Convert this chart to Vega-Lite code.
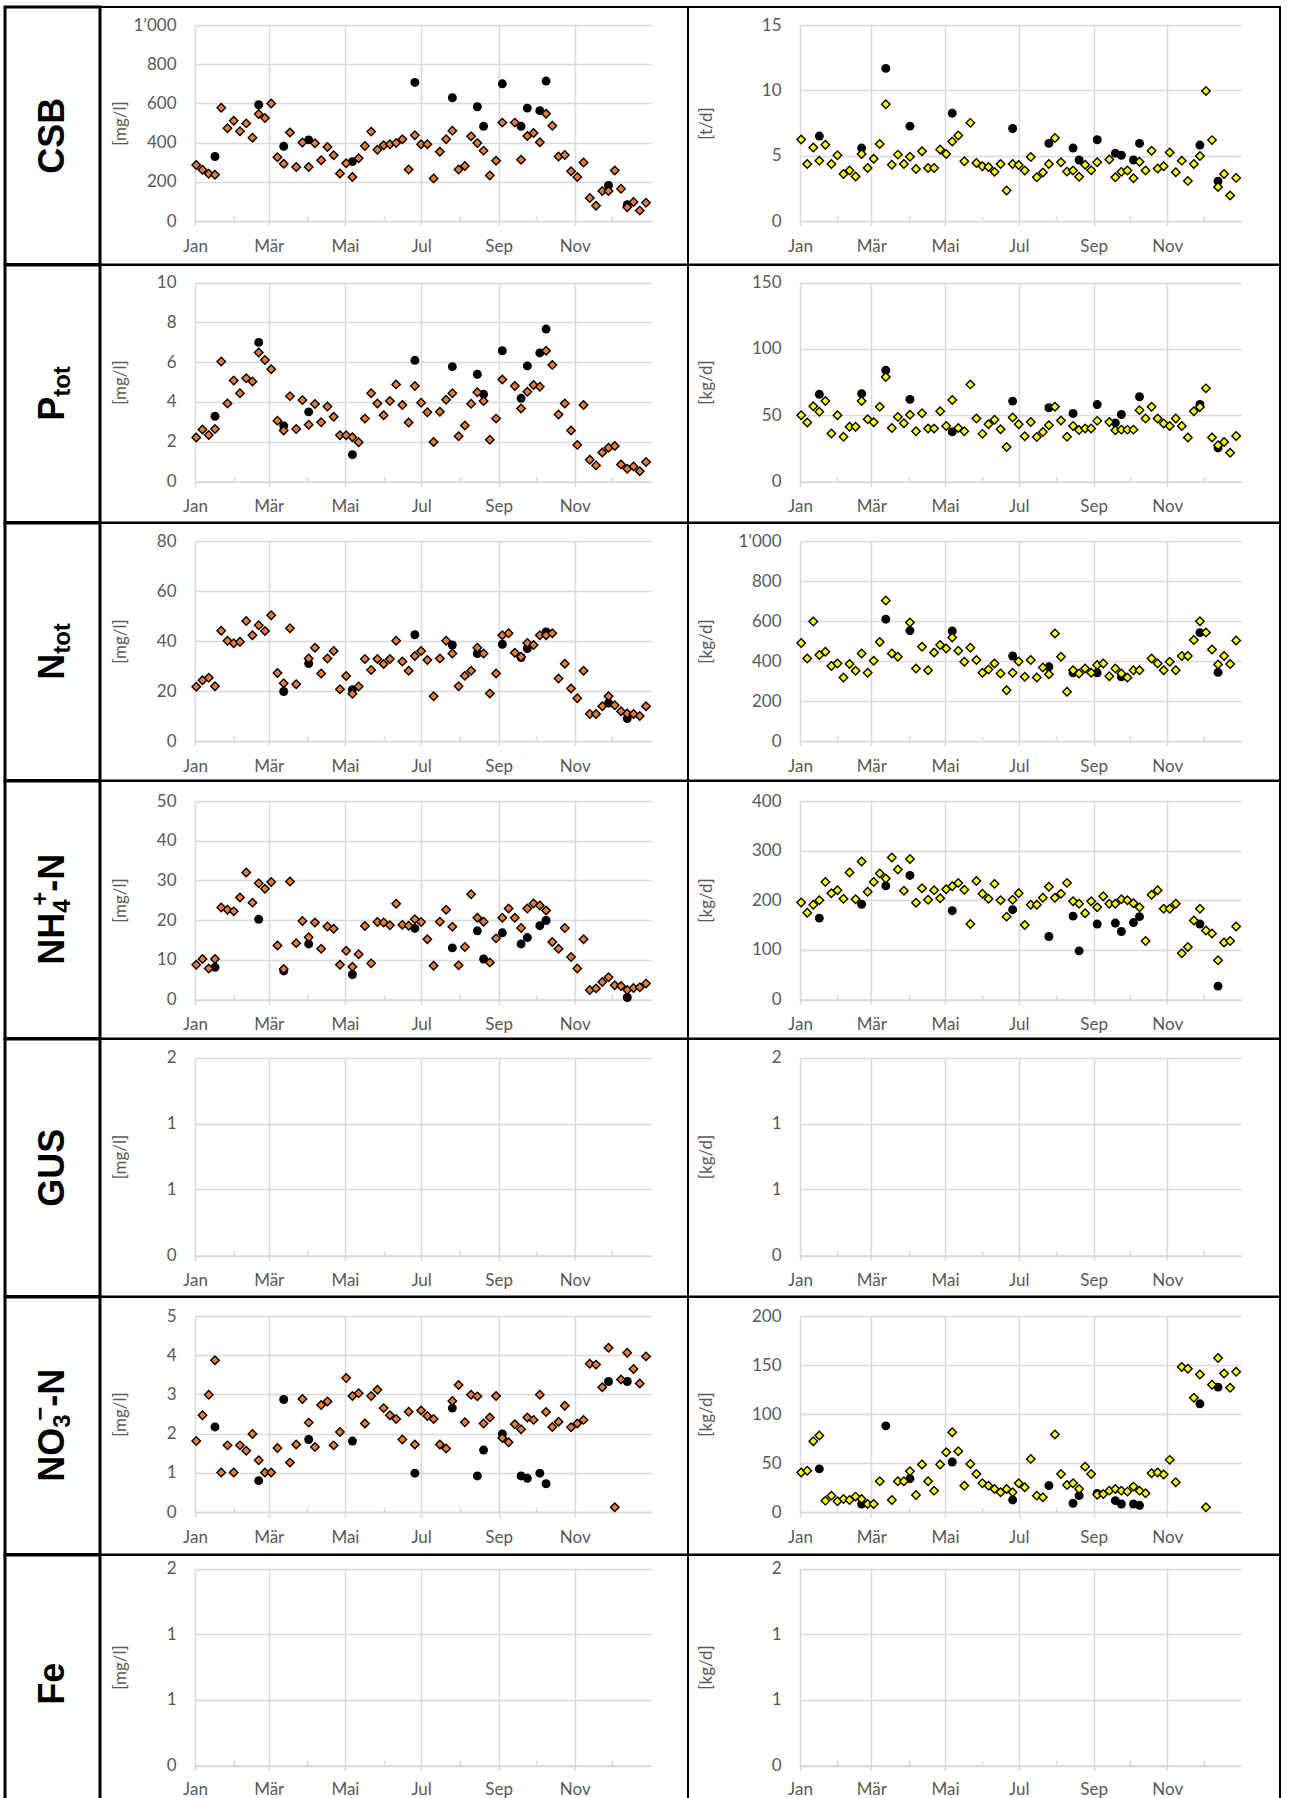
{
"$schema":"https://vega.github.io/schema/vega-lite/v6.json",
"background":"white",
"padding":{"left":3,"top":5,"right":0,"bottom":0},
"config":{
"axis":{"labelFont":"Lato","labelFontSize":17,"labelFontWeight":"normal","labelColor":"#595959","titleFont":"Lato","titleFontSize":17,"titleColor":"#595959","titleFontWeight":"normal","gridColor":"#d9d9d9","gridWidth":1.5,"domainColor":"#d9d9d9","domainWidth":1.5,"tickColor":"#d9d9d9","tickWidth":1.5},
"text":{"font":"Liberation Sans","fontWeight":"bold","color":"black"}
},
"datasets":{
"CSB_L_A":[{"t":"2021-01-02","v":286},{"t":"2021-01-07","v":261},{"t":"2021-01-12","v":241},{"t":"2021-01-17","v":236},{"t":"2021-01-22","v":578},{"t":"2021-01-27","v":473},{"t":"2021-02-01","v":512},{"t":"2021-02-06","v":458},{"t":"2021-02-11","v":498},{"t":"2021-02-16","v":425},{"t":"2021-02-21","v":546},{"t":"2021-02-26","v":525},{"t":"2021-03-03","v":600},{"t":"2021-03-08","v":325},{"t":"2021-03-13","v":292},{"t":"2021-03-18","v":452},{"t":"2021-03-23","v":276},{"t":"2021-03-28","v":400},{"t":"2021-04-02","v":276},{"t":"2021-04-07","v":397},{"t":"2021-04-12","v":310},{"t":"2021-04-17","v":378},{"t":"2021-04-22","v":336},{"t":"2021-04-27","v":242},{"t":"2021-05-02","v":295},{"t":"2021-05-07","v":224},{"t":"2021-05-12","v":320},{"t":"2021-05-17","v":383},{"t":"2021-05-22","v":456},{"t":"2021-05-27","v":363},{"t":"2021-06-01","v":386},{"t":"2021-06-06","v":392},{"t":"2021-06-11","v":398},{"t":"2021-06-16","v":417},{"t":"2021-06-21","v":263},{"t":"2021-06-26","v":437},{"t":"2021-07-01","v":392},{"t":"2021-07-06","v":392},{"t":"2021-07-11","v":217},{"t":"2021-07-16","v":353},{"t":"2021-07-21","v":417},{"t":"2021-07-26","v":461},{"t":"2021-07-31","v":263},{"t":"2021-08-05","v":281},{"t":"2021-08-10","v":432},{"t":"2021-08-15","v":398},{"t":"2021-08-20","v":359},{"t":"2021-08-25","v":232},{"t":"2021-08-30","v":307},{"t":"2021-09-04","v":502},{"t":"2021-09-14","v":502},{"t":"2021-09-19","v":312},{"t":"2021-09-24","v":434},{"t":"2021-09-29","v":449},{"t":"2021-10-04","v":402},{"t":"2021-10-09","v":547},{"t":"2021-10-14","v":486},{"t":"2021-10-19","v":329},{"t":"2021-10-24","v":337},{"t":"2021-10-29","v":254},{"t":"2021-11-03","v":225},{"t":"2021-11-08","v":298},{"t":"2021-11-13","v":117},{"t":"2021-11-18","v":78},{"t":"2021-11-23","v":153},{"t":"2021-11-28","v":153},{"t":"2021-12-03","v":258},{"t":"2021-12-08","v":164},{"t":"2021-12-13","v":70},{"t":"2021-12-18","v":97},{"t":"2021-12-23","v":53},{"t":"2021-12-28","v":93}],
"CSB_L_B":[{"t":"2021-01-17","v":329},{"t":"2021-02-21","v":593},{"t":"2021-03-13","v":381},{"t":"2021-04-02","v":414},{"t":"2021-05-07","v":303},{"t":"2021-06-26","v":707},{"t":"2021-07-26","v":629},{"t":"2021-08-15","v":583},{"t":"2021-08-20","v":483},{"t":"2021-09-04","v":700},{"t":"2021-09-19","v":483},{"t":"2021-09-24","v":576},{"t":"2021-10-04","v":563},{"t":"2021-10-09","v":714},{"t":"2021-11-28","v":181},{"t":"2021-12-13","v":83}],
"CSB_R_A":[{"t":"2021-01-02","v":6.24},{"t":"2021-01-07","v":4.37},{"t":"2021-01-12","v":5.63},{"t":"2021-01-17","v":4.62},{"t":"2021-01-22","v":5.84},{"t":"2021-01-27","v":4.37},{"t":"2021-02-01","v":5.03},{"t":"2021-02-06","v":3.6},{"t":"2021-02-11","v":3.86},{"t":"2021-02-16","v":3.4},{"t":"2021-02-21","v":5.13},{"t":"2021-02-26","v":4.06},{"t":"2021-03-03","v":4.77},{"t":"2021-03-08","v":5.89},{"t":"2021-03-13","v":8.93},{"t":"2021-03-18","v":4.31},{"t":"2021-03-23","v":5.08},{"t":"2021-03-28","v":4.37},{"t":"2021-04-02","v":4.92},{"t":"2021-04-07","v":3.98},{"t":"2021-04-12","v":5.33},{"t":"2021-04-17","v":4.06},{"t":"2021-04-22","v":4.06},{"t":"2021-04-27","v":5.48},{"t":"2021-05-02","v":5.13},{"t":"2021-05-07","v":6.09},{"t":"2021-05-12","v":6.55},{"t":"2021-05-17","v":4.57},{"t":"2021-05-22","v":7.51},{"t":"2021-05-27","v":4.44},{"t":"2021-06-01","v":4.19},{"t":"2021-06-06","v":4.14},{"t":"2021-06-11","v":3.76},{"t":"2021-06-16","v":4.37},{"t":"2021-06-21","v":2.34},{"t":"2021-06-26","v":4.37},{"t":"2021-07-01","v":4.29},{"t":"2021-07-06","v":3.86},{"t":"2021-07-11","v":4.9},{"t":"2021-07-16","v":3.35},{"t":"2021-07-21","v":3.71},{"t":"2021-07-26","v":4.37},{"t":"2021-07-31","v":6.35},{"t":"2021-08-05","v":4.49},{"t":"2021-08-10","v":3.78},{"t":"2021-08-15","v":3.86},{"t":"2021-08-20","v":3.38},{"t":"2021-08-25","v":4.31},{"t":"2021-08-30","v":3.88},{"t":"2021-09-04","v":4.49},{"t":"2021-09-14","v":4.7},{"t":"2021-09-19","v":3.35},{"t":"2021-09-24","v":3.76},{"t":"2021-09-29","v":3.86},{"t":"2021-10-04","v":3.27},{"t":"2021-10-09","v":4.54},{"t":"2021-10-14","v":3.86},{"t":"2021-10-19","v":5.38},{"t":"2021-10-24","v":4.01},{"t":"2021-10-29","v":4.19},{"t":"2021-11-03","v":5.25},{"t":"2021-11-08","v":3.73},{"t":"2021-11-13","v":4.62},{"t":"2021-11-18","v":3.07},{"t":"2021-11-23","v":4.37},{"t":"2021-11-28","v":4.97},{"t":"2021-12-03","v":9.95},{"t":"2021-12-08","v":6.19},{"t":"2021-12-13","v":2.61},{"t":"2021-12-18","v":3.6},{"t":"2021-12-23","v":1.95},{"t":"2021-12-28","v":3.3}],
"CSB_R_B":[{"t":"2021-01-17","v":6.5},{"t":"2021-02-21","v":5.58},{"t":"2021-03-13","v":11.68},{"t":"2021-04-02","v":7.26},{"t":"2021-05-07","v":8.25},{"t":"2021-06-26","v":7.08},{"t":"2021-07-26","v":5.94},{"t":"2021-08-15","v":5.58},{"t":"2021-08-20","v":4.67},{"t":"2021-09-04","v":6.22},{"t":"2021-09-19","v":5.18},{"t":"2021-09-24","v":5.03},{"t":"2021-10-04","v":4.67},{"t":"2021-10-09","v":5.94},{"t":"2021-11-28","v":5.81},{"t":"2021-12-13","v":3.05}],
"P_L_A":[{"t":"2021-01-02","v":2.21},{"t":"2021-01-07","v":2.61},{"t":"2021-01-12","v":2.34},{"t":"2021-01-17","v":2.64},{"t":"2021-01-22","v":6.03},{"t":"2021-01-27","v":3.92},{"t":"2021-02-01","v":5.08},{"t":"2021-02-06","v":4.44},{"t":"2021-02-11","v":5.19},{"t":"2021-02-16","v":5.02},{"t":"2021-02-21","v":6.48},{"t":"2021-02-26","v":6.11},{"t":"2021-03-03","v":5.64},{"t":"2021-03-08","v":3.05},{"t":"2021-03-13","v":2.56},{"t":"2021-03-18","v":4.29},{"t":"2021-03-23","v":2.64},{"t":"2021-03-28","v":4.09},{"t":"2021-04-02","v":2.85},{"t":"2021-04-07","v":3.89},{"t":"2021-04-12","v":2.98},{"t":"2021-04-17","v":3.77},{"t":"2021-04-22","v":3.25},{"t":"2021-04-27","v":2.32},{"t":"2021-05-02","v":2.32},{"t":"2021-05-07","v":2.22},{"t":"2021-05-12","v":1.97},{"t":"2021-05-17","v":3.16},{"t":"2021-05-22","v":4.44},{"t":"2021-05-27","v":3.92},{"t":"2021-06-01","v":3.33},{"t":"2021-06-06","v":4.04},{"t":"2021-06-11","v":4.88},{"t":"2021-06-16","v":3.84},{"t":"2021-06-21","v":2.96},{"t":"2021-06-26","v":4.8},{"t":"2021-07-01","v":3.96},{"t":"2021-07-06","v":3.48},{"t":"2021-07-11","v":1.99},{"t":"2021-07-16","v":3.5},{"t":"2021-07-21","v":4.11},{"t":"2021-07-26","v":4.43},{"t":"2021-07-31","v":2.27},{"t":"2021-08-05","v":2.81},{"t":"2021-08-10","v":3.91},{"t":"2021-08-15","v":4.48},{"t":"2021-08-20","v":4.04},{"t":"2021-08-25","v":2.1},{"t":"2021-08-30","v":3.16},{"t":"2021-09-04","v":5.13},{"t":"2021-09-14","v":4.8},{"t":"2021-09-19","v":3.67},{"t":"2021-09-24","v":4.51},{"t":"2021-09-29","v":4.85},{"t":"2021-10-04","v":4.76},{"t":"2021-10-09","v":6.57},{"t":"2021-10-14","v":5.86},{"t":"2021-10-19","v":3.37},{"t":"2021-10-24","v":3.92},{"t":"2021-10-29","v":2.56},{"t":"2021-11-03","v":1.84},{"t":"2021-11-08","v":3.84},{"t":"2021-11-13","v":1.09},{"t":"2021-11-18","v":0.81},{"t":"2021-11-23","v":1.46},{"t":"2021-11-28","v":1.7},{"t":"2021-12-03","v":1.78},{"t":"2021-12-08","v":0.86},{"t":"2021-12-13","v":0.64},{"t":"2021-12-18","v":0.76},{"t":"2021-12-23","v":0.51},{"t":"2021-12-28","v":0.98}],
"P_L_B":[{"t":"2021-01-17","v":3.28},{"t":"2021-02-21","v":6.99},{"t":"2021-03-13","v":2.79},{"t":"2021-04-02","v":3.5},{"t":"2021-05-07","v":1.35},{"t":"2021-06-26","v":6.09},{"t":"2021-07-26","v":5.77},{"t":"2021-08-15","v":5.39},{"t":"2021-08-20","v":4.38},{"t":"2021-09-04","v":6.57},{"t":"2021-09-19","v":4.18},{"t":"2021-09-24","v":5.81},{"t":"2021-10-04","v":6.46},{"t":"2021-10-09","v":7.66}],
"P_R_A":[{"t":"2021-01-02","v":50},{"t":"2021-01-07","v":44.4},{"t":"2021-01-12","v":56.8},{"t":"2021-01-17","v":52.5},{"t":"2021-01-22","v":60.6},{"t":"2021-01-27","v":36.1},{"t":"2021-02-01","v":50},{"t":"2021-02-06","v":33.8},{"t":"2021-02-11","v":41.2},{"t":"2021-02-16","v":41.2},{"t":"2021-02-21","v":60.6},{"t":"2021-02-26","v":47},{"t":"2021-03-03","v":44.7},{"t":"2021-03-08","v":56.3},{"t":"2021-03-13","v":78.8},{"t":"2021-03-18","v":40.4},{"t":"2021-03-23","v":48.7},{"t":"2021-03-28","v":43.9},{"t":"2021-04-02","v":50.3},{"t":"2021-04-07","v":37.9},{"t":"2021-04-12","v":51.5},{"t":"2021-04-17","v":39.9},{"t":"2021-04-22","v":39.9},{"t":"2021-04-27","v":53},{"t":"2021-05-02","v":41.9},{"t":"2021-05-07","v":61.4},{"t":"2021-05-12","v":40.4},{"t":"2021-05-17","v":37.9},{"t":"2021-05-22","v":73.2},{"t":"2021-05-27","v":47.5},{"t":"2021-06-01","v":35.9},{"t":"2021-06-06","v":43.2},{"t":"2021-06-11","v":46.5},{"t":"2021-06-16","v":39.4},{"t":"2021-06-21","v":26},{"t":"2021-06-26","v":48.2},{"t":"2021-07-01","v":43.2},{"t":"2021-07-06","v":34.1},{"t":"2021-07-11","v":44.9},{"t":"2021-07-16","v":33.6},{"t":"2021-07-21","v":37.4},{"t":"2021-07-26","v":42.4},{"t":"2021-07-31","v":56.3},{"t":"2021-08-05","v":46},{"t":"2021-08-10","v":33.8},{"t":"2021-08-15","v":41.9},{"t":"2021-08-20","v":38.9},{"t":"2021-08-25","v":39.9},{"t":"2021-08-30","v":39.9},{"t":"2021-09-04","v":45.7},{"t":"2021-09-14","v":44.9},{"t":"2021-09-19","v":38.6},{"t":"2021-09-24","v":39.1},{"t":"2021-09-29","v":39.1},{"t":"2021-10-04","v":39.1},{"t":"2021-10-09","v":53.8},{"t":"2021-10-14","v":47.5},{"t":"2021-10-19","v":56.3},{"t":"2021-10-24","v":47.5},{"t":"2021-10-29","v":43.7},{"t":"2021-11-03","v":41.9},{"t":"2021-11-08","v":47.5},{"t":"2021-11-13","v":41.9},{"t":"2021-11-18","v":33.1},{"t":"2021-11-23","v":53},{"t":"2021-11-28","v":56.1},{"t":"2021-12-03","v":70.2},{"t":"2021-12-08","v":33.1},{"t":"2021-12-13","v":27.3},{"t":"2021-12-18","v":29.8},{"t":"2021-12-23","v":21.7},{"t":"2021-12-28","v":34.3}],
"P_R_B":[{"t":"2021-01-17","v":65.7},{"t":"2021-02-21","v":66.2},{"t":"2021-03-13","v":83.8},{"t":"2021-04-02","v":61.9},{"t":"2021-05-07","v":37.4},{"t":"2021-06-26","v":60.6},{"t":"2021-07-26","v":55.6},{"t":"2021-08-15","v":51.3},{"t":"2021-09-04","v":58},{"t":"2021-09-19","v":44.2},{"t":"2021-09-24","v":50.5},{"t":"2021-10-09","v":63.9},{"t":"2021-11-28","v":58.1},{"t":"2021-12-13","v":25.3}],
"N_L_A":[{"t":"2021-01-02","v":21.7},{"t":"2021-01-07","v":24.3},{"t":"2021-01-12","v":25.3},{"t":"2021-01-17","v":21.9},{"t":"2021-01-22","v":44.1},{"t":"2021-01-27","v":40.1},{"t":"2021-02-01","v":39.1},{"t":"2021-02-06","v":39.7},{"t":"2021-02-11","v":48},{"t":"2021-02-16","v":42.3},{"t":"2021-02-21","v":46.3},{"t":"2021-02-26","v":44},{"t":"2021-03-03","v":50.3},{"t":"2021-03-08","v":27.2},{"t":"2021-03-13","v":23.1},{"t":"2021-03-18","v":45.1},{"t":"2021-03-23","v":22.7},{"t":"2021-04-02","v":33},{"t":"2021-04-07","v":37.3},{"t":"2021-04-12","v":27},{"t":"2021-04-17","v":33},{"t":"2021-04-22","v":36},{"t":"2021-04-27","v":20.7},{"t":"2021-05-02","v":26},{"t":"2021-05-07","v":18.9},{"t":"2021-05-12","v":21.8},{"t":"2021-05-17","v":32.8},{"t":"2021-05-22","v":28.4},{"t":"2021-05-27","v":32.8},{"t":"2021-06-01","v":30.8},{"t":"2021-06-06","v":32.8},{"t":"2021-06-11","v":40.1},{"t":"2021-06-16","v":31.8},{"t":"2021-06-21","v":28.1},{"t":"2021-06-26","v":34},{"t":"2021-07-01","v":36},{"t":"2021-07-06","v":32.4},{"t":"2021-07-11","v":17.9},{"t":"2021-07-16","v":33},{"t":"2021-07-21","v":40.1},{"t":"2021-07-26","v":35},{"t":"2021-07-31","v":21.9},{"t":"2021-08-05","v":26.1},{"t":"2021-08-10","v":28.1},{"t":"2021-08-15","v":37.3},{"t":"2021-08-20","v":35},{"t":"2021-08-25","v":19},{"t":"2021-08-30","v":27},{"t":"2021-09-04","v":42.3},{"t":"2021-09-09","v":43.1},{"t":"2021-09-14","v":35.3},{"t":"2021-09-19","v":33.7},{"t":"2021-09-24","v":39.2},{"t":"2021-09-29","v":38.4},{"t":"2021-10-04","v":42.3},{"t":"2021-10-09","v":42.3},{"t":"2021-10-14","v":43.1},{"t":"2021-10-19","v":25},{"t":"2021-10-24","v":30.9},{"t":"2021-10-29","v":21},{"t":"2021-11-03","v":17.1},{"t":"2021-11-08","v":28.1},{"t":"2021-11-13","v":10.8},{"t":"2021-11-18","v":10.8},{"t":"2021-11-23","v":13.9},{"t":"2021-11-28","v":17.9},{"t":"2021-12-03","v":14.3},{"t":"2021-12-08","v":11.9},{"t":"2021-12-13","v":11},{"t":"2021-12-18","v":10.8},{"t":"2021-12-23","v":10},{"t":"2021-12-28","v":13.9}],
"N_L_B":[{"t":"2021-03-13","v":19.8},{"t":"2021-04-02","v":31},{"t":"2021-05-07","v":20.5},{"t":"2021-06-26","v":42.5},{"t":"2021-07-26","v":38.4},{"t":"2021-08-15","v":35},{"t":"2021-09-04","v":38.7},{"t":"2021-09-19","v":33.4},{"t":"2021-09-24","v":37},{"t":"2021-10-09","v":43.6},{"t":"2021-11-28","v":15.2},{"t":"2021-12-13","v":9}],
"N_R_A":[{"t":"2021-01-02","v":490},{"t":"2021-01-07","v":413},{"t":"2021-01-12","v":597},{"t":"2021-01-17","v":430},{"t":"2021-01-22","v":446},{"t":"2021-01-27","v":375},{"t":"2021-02-01","v":388},{"t":"2021-02-06","v":318},{"t":"2021-02-11","v":385},{"t":"2021-02-16","v":351},{"t":"2021-02-21","v":438},{"t":"2021-02-26","v":341},{"t":"2021-03-03","v":401},{"t":"2021-03-08","v":495},{"t":"2021-03-13","v":702},{"t":"2021-03-18","v":438},{"t":"2021-03-23","v":421},{"t":"2021-04-02","v":592},{"t":"2021-04-07","v":363},{"t":"2021-04-12","v":471},{"t":"2021-04-17","v":354},{"t":"2021-04-22","v":443},{"t":"2021-04-27","v":480},{"t":"2021-05-02","v":463},{"t":"2021-05-07","v":518},{"t":"2021-05-12","v":451},{"t":"2021-05-17","v":396},{"t":"2021-05-22","v":466},{"t":"2021-05-27","v":405},{"t":"2021-06-01","v":341},{"t":"2021-06-06","v":358},{"t":"2021-06-11","v":388},{"t":"2021-06-16","v":338},{"t":"2021-06-21","v":254},{"t":"2021-06-26","v":341},{"t":"2021-07-01","v":398},{"t":"2021-07-06","v":321},{"t":"2021-07-11","v":405},{"t":"2021-07-16","v":318},{"t":"2021-07-21","v":368},{"t":"2021-07-26","v":334},{"t":"2021-07-31","v":538},{"t":"2021-08-05","v":421},{"t":"2021-08-10","v":246},{"t":"2021-08-15","v":354},{"t":"2021-08-20","v":338},{"t":"2021-08-25","v":363},{"t":"2021-08-30","v":341},{"t":"2021-09-04","v":380},{"t":"2021-09-09","v":388},{"t":"2021-09-14","v":324},{"t":"2021-09-19","v":363},{"t":"2021-09-24","v":338},{"t":"2021-09-29","v":318},{"t":"2021-10-04","v":354},{"t":"2021-10-09","v":354},{"t":"2021-10-19","v":413},{"t":"2021-10-24","v":388},{"t":"2021-10-29","v":354},{"t":"2021-11-03","v":396},{"t":"2021-11-08","v":354},{"t":"2021-11-13","v":425},{"t":"2021-11-18","v":425},{"t":"2021-11-23","v":505},{"t":"2021-11-28","v":599},{"t":"2021-12-03","v":542},{"t":"2021-12-08","v":458},{"t":"2021-12-13","v":383},{"t":"2021-12-18","v":425},{"t":"2021-12-23","v":385},{"t":"2021-12-28","v":502}],
"N_R_B":[{"t":"2021-03-13","v":609},{"t":"2021-04-02","v":552},{"t":"2021-05-07","v":550},{"t":"2021-06-26","v":425},{"t":"2021-07-26","v":371},{"t":"2021-08-15","v":341},{"t":"2021-09-04","v":341},{"t":"2021-09-24","v":321},{"t":"2021-11-28","v":542},{"t":"2021-12-13","v":343}],
"NH_L_A":[{"t":"2021-01-02","v":8.75},{"t":"2021-01-07","v":10.2},{"t":"2021-01-12","v":7.8},{"t":"2021-01-17","v":10.2},{"t":"2021-01-22","v":23.2},{"t":"2021-01-27","v":22.6},{"t":"2021-02-01","v":22.2},{"t":"2021-02-06","v":25.7},{"t":"2021-02-11","v":32},{"t":"2021-02-16","v":24.4},{"t":"2021-02-21","v":29.3},{"t":"2021-02-26","v":27.9},{"t":"2021-03-03","v":29.6},{"t":"2021-03-08","v":13.6},{"t":"2021-03-13","v":7.7},{"t":"2021-03-18","v":29.7},{"t":"2021-03-23","v":14.2},{"t":"2021-03-28","v":19.8},{"t":"2021-04-02","v":15.7},{"t":"2021-04-07","v":19.4},{"t":"2021-04-12","v":12.8},{"t":"2021-04-17","v":18.4},{"t":"2021-04-22","v":17.8},{"t":"2021-04-27","v":8.75},{"t":"2021-05-02","v":12.3},{"t":"2021-05-07","v":8.25},{"t":"2021-05-12","v":11.4},{"t":"2021-05-17","v":18.5},{"t":"2021-05-22","v":9.1},{"t":"2021-05-27","v":19.5},{"t":"2021-06-01","v":19.4},{"t":"2021-06-06","v":18.7},{"t":"2021-06-11","v":24.1},{"t":"2021-06-16","v":18.8},{"t":"2021-06-21","v":18.6},{"t":"2021-06-26","v":20.2},{"t":"2021-07-01","v":19.5},{"t":"2021-07-06","v":15.2},{"t":"2021-07-11","v":8.5},{"t":"2021-07-16","v":19.6},{"t":"2021-07-21","v":22.6},{"t":"2021-07-26","v":18.3},{"t":"2021-07-31","v":8.6},{"t":"2021-08-05","v":13.2},{"t":"2021-08-10","v":26.5},{"t":"2021-08-15","v":20.6},{"t":"2021-08-20","v":19.6},{"t":"2021-08-25","v":9.3},{"t":"2021-08-30","v":15.4},{"t":"2021-09-04","v":20.6},{"t":"2021-09-09","v":22.9},{"t":"2021-09-14","v":20.6},{"t":"2021-09-19","v":18},{"t":"2021-09-24","v":22.9},{"t":"2021-09-29","v":24.2},{"t":"2021-10-04","v":23.7},{"t":"2021-10-09","v":22.4},{"t":"2021-10-14","v":14.5},{"t":"2021-10-19","v":12.8},{"t":"2021-10-24","v":18},{"t":"2021-10-29","v":10.7},{"t":"2021-11-03","v":7.8},{"t":"2021-11-08","v":15.2},{"t":"2021-11-13","v":2.4},{"t":"2021-11-18","v":2.8},{"t":"2021-11-23","v":4.4},{"t":"2021-11-28","v":5.6},{"t":"2021-12-03","v":3.6},{"t":"2021-12-08","v":3.4},{"t":"2021-12-13","v":2.4},{"t":"2021-12-18","v":2.9},{"t":"2021-12-23","v":3.1},{"t":"2021-12-28","v":4}],
"NH_L_B":[{"t":"2021-01-17","v":8.1},{"t":"2021-02-21","v":20.2},{"t":"2021-03-13","v":7.2},{"t":"2021-04-02","v":14},{"t":"2021-05-07","v":6.3},{"t":"2021-06-26","v":17.9},{"t":"2021-07-26","v":13},{"t":"2021-08-15","v":17.3},{"t":"2021-08-20","v":10.2},{"t":"2021-09-04","v":16.8},{"t":"2021-09-19","v":14},{"t":"2021-09-24","v":15.6},{"t":"2021-10-04","v":18.6},{"t":"2021-10-09","v":19.9},{"t":"2021-12-13","v":0.5}],
"NH_R_A":[{"t":"2021-01-02","v":195.5},{"t":"2021-01-07","v":175},{"t":"2021-01-12","v":191},{"t":"2021-01-17","v":200},{"t":"2021-01-22","v":237},{"t":"2021-01-27","v":214},{"t":"2021-02-01","v":220},{"t":"2021-02-06","v":203},{"t":"2021-02-11","v":256},{"t":"2021-02-16","v":202},{"t":"2021-02-21","v":278},{"t":"2021-02-26","v":217},{"t":"2021-03-03","v":237},{"t":"2021-03-08","v":254},{"t":"2021-03-13","v":244},{"t":"2021-03-18","v":286},{"t":"2021-03-23","v":262},{"t":"2021-03-28","v":219},{"t":"2021-04-02","v":283},{"t":"2021-04-07","v":195},{"t":"2021-04-12","v":224},{"t":"2021-04-17","v":201},{"t":"2021-04-22","v":220},{"t":"2021-04-27","v":204},{"t":"2021-05-02","v":222},{"t":"2021-05-07","v":228},{"t":"2021-05-12","v":235},{"t":"2021-05-17","v":221},{"t":"2021-05-22","v":152},{"t":"2021-05-27","v":239},{"t":"2021-06-01","v":213},{"t":"2021-06-06","v":203},{"t":"2021-06-11","v":233},{"t":"2021-06-16","v":200},{"t":"2021-06-21","v":167},{"t":"2021-06-26","v":201},{"t":"2021-07-01","v":214},{"t":"2021-07-06","v":150},{"t":"2021-07-11","v":191},{"t":"2021-07-16","v":191},{"t":"2021-07-21","v":205},{"t":"2021-07-26","v":227},{"t":"2021-07-31","v":205},{"t":"2021-08-05","v":213},{"t":"2021-08-10","v":235},{"t":"2021-08-15","v":198},{"t":"2021-08-20","v":193},{"t":"2021-08-25","v":174},{"t":"2021-08-30","v":198},{"t":"2021-09-04","v":186},{"t":"2021-09-09","v":208},{"t":"2021-09-14","v":193},{"t":"2021-09-19","v":193},{"t":"2021-09-24","v":202},{"t":"2021-09-29","v":200},{"t":"2021-10-04","v":194},{"t":"2021-10-09","v":186},{"t":"2021-10-14","v":118},{"t":"2021-10-19","v":211},{"t":"2021-10-24","v":220},{"t":"2021-10-29","v":183},{"t":"2021-11-03","v":183},{"t":"2021-11-08","v":193},{"t":"2021-11-13","v":93},{"t":"2021-11-18","v":106},{"t":"2021-11-23","v":159},{"t":"2021-11-28","v":183},{"t":"2021-12-03","v":139},{"t":"2021-12-08","v":133},{"t":"2021-12-13","v":79},{"t":"2021-12-18","v":115},{"t":"2021-12-23","v":118},{"t":"2021-12-28","v":147}],
"NH_R_B":[{"t":"2021-01-17","v":164},{"t":"2021-02-21","v":192},{"t":"2021-03-13","v":229},{"t":"2021-04-02","v":250},{"t":"2021-05-07","v":179},{"t":"2021-06-26","v":181},{"t":"2021-07-26","v":127},{"t":"2021-08-15","v":168},{"t":"2021-08-20","v":98},{"t":"2021-09-04","v":152},{"t":"2021-09-19","v":154},{"t":"2021-09-24","v":137},{"t":"2021-10-04","v":155},{"t":"2021-10-09","v":167},{"t":"2021-11-28","v":152},{"t":"2021-12-13","v":27}],
"NO_L_A":[{"t":"2021-01-02","v":1.81},{"t":"2021-01-07","v":2.47},{"t":"2021-01-12","v":2.99},{"t":"2021-01-17","v":3.87},{"t":"2021-01-22","v":1.01},{"t":"2021-01-27","v":1.7},{"t":"2021-02-01","v":1.01},{"t":"2021-02-06","v":1.7},{"t":"2021-02-11","v":1.56},{"t":"2021-02-16","v":1.99},{"t":"2021-02-21","v":1.32},{"t":"2021-02-26","v":1.01},{"t":"2021-03-03","v":1.01},{"t":"2021-03-08","v":1.63},{"t":"2021-03-18","v":1.26},{"t":"2021-03-23","v":1.72},{"t":"2021-03-28","v":2.88},{"t":"2021-04-02","v":2.28},{"t":"2021-04-07","v":1.66},{"t":"2021-04-12","v":2.73},{"t":"2021-04-17","v":2.82},{"t":"2021-04-22","v":1.7},{"t":"2021-04-27","v":2.04},{"t":"2021-05-02","v":3.42},{"t":"2021-05-07","v":2.96},{"t":"2021-05-12","v":3.03},{"t":"2021-05-17","v":2.26},{"t":"2021-05-22","v":2.96},{"t":"2021-05-27","v":3.12},{"t":"2021-06-01","v":2.65},{"t":"2021-06-06","v":2.47},{"t":"2021-06-11","v":2.37},{"t":"2021-06-16","v":1.85},{"t":"2021-06-21","v":2.56},{"t":"2021-06-26","v":1.72},{"t":"2021-07-01","v":2.59},{"t":"2021-07-06","v":2.45},{"t":"2021-07-11","v":2.37},{"t":"2021-07-16","v":1.72},{"t":"2021-07-21","v":1.62},{"t":"2021-07-26","v":2.83},{"t":"2021-07-31","v":3.24},{"t":"2021-08-05","v":2.29},{"t":"2021-08-10","v":2.99},{"t":"2021-08-15","v":2.95},{"t":"2021-08-20","v":2.26},{"t":"2021-08-25","v":2.41},{"t":"2021-08-30","v":2.96},{"t":"2021-09-04","v":1.89},{"t":"2021-09-09","v":1.78},{"t":"2021-09-14","v":2.24},{"t":"2021-09-19","v":2.11},{"t":"2021-09-24","v":2.41},{"t":"2021-09-29","v":2.35},{"t":"2021-10-04","v":2.99},{"t":"2021-10-09","v":2.55},{"t":"2021-10-14","v":2.17},{"t":"2021-10-19","v":2.3},{"t":"2021-10-24","v":2.71},{"t":"2021-10-29","v":2.16},{"t":"2021-11-03","v":2.26},{"t":"2021-11-08","v":2.35},{"t":"2021-11-13","v":3.78},{"t":"2021-11-18","v":3.76},{"t":"2021-11-23","v":3.18},{"t":"2021-11-28","v":4.19},{"t":"2021-12-03","v":0.12},{"t":"2021-12-08","v":3.38},{"t":"2021-12-13","v":4.06},{"t":"2021-12-18","v":3.65},{"t":"2021-12-23","v":3.28},{"t":"2021-12-28","v":3.97}],
"NO_L_B":[{"t":"2021-01-17","v":2.17},{"t":"2021-02-21","v":0.8},{"t":"2021-03-13","v":2.87},{"t":"2021-04-02","v":1.85},{"t":"2021-05-07","v":1.81},{"t":"2021-06-26","v":0.99},{"t":"2021-07-26","v":2.65},{"t":"2021-08-15","v":0.92},{"t":"2021-08-20","v":1.58},{"t":"2021-09-04","v":1.99},{"t":"2021-09-19","v":0.92},{"t":"2021-09-24","v":0.86},{"t":"2021-10-04","v":0.99},{"t":"2021-10-09","v":0.72},{"t":"2021-11-28","v":3.33},{"t":"2021-12-13","v":3.33}],
"NO_R_A":[{"t":"2021-01-02","v":40.2},{"t":"2021-01-07","v":42.2},{"t":"2021-01-12","v":72.2},{"t":"2021-01-17","v":78},{"t":"2021-01-22","v":11.6},{"t":"2021-01-27","v":16.7},{"t":"2021-02-01","v":10.9},{"t":"2021-02-06","v":13.3},{"t":"2021-02-11","v":12.3},{"t":"2021-02-16","v":15.7},{"t":"2021-02-21","v":13.3},{"t":"2021-02-26","v":8.2},{"t":"2021-03-03","v":8.2},{"t":"2021-03-08","v":31.3},{"t":"2021-03-18","v":12.3},{"t":"2021-03-23","v":31.3},{"t":"2021-03-28","v":31.3},{"t":"2021-04-02","v":41.6},{"t":"2021-04-07","v":17.4},{"t":"2021-04-12","v":48.4},{"t":"2021-04-17","v":31.3},{"t":"2021-04-22","v":21.8},{"t":"2021-04-27","v":48.4},{"t":"2021-05-02","v":61},{"t":"2021-05-07","v":81.4},{"t":"2021-05-12","v":62},{"t":"2021-05-17","v":26.9},{"t":"2021-05-22","v":49},{"t":"2021-05-27","v":38.8},{"t":"2021-06-01","v":29.3},{"t":"2021-06-06","v":26.9},{"t":"2021-06-11","v":23.5},{"t":"2021-06-16","v":20.1},{"t":"2021-06-21","v":23.5},{"t":"2021-06-26","v":20.1},{"t":"2021-07-01","v":29.3},{"t":"2021-07-06","v":25.2},{"t":"2021-07-11","v":54.2},{"t":"2021-07-16","v":16.7},{"t":"2021-07-21","v":15},{"t":"2021-07-31","v":79},{"t":"2021-08-05","v":38.8},{"t":"2021-08-10","v":27.6},{"t":"2021-08-15","v":29.3},{"t":"2021-08-20","v":23.5},{"t":"2021-08-25","v":46.3},{"t":"2021-08-30","v":38.8},{"t":"2021-09-04","v":17.7},{"t":"2021-09-09","v":18.4},{"t":"2021-09-14","v":21.8},{"t":"2021-09-19","v":23.5},{"t":"2021-09-24","v":21.8},{"t":"2021-09-29","v":20.8},{"t":"2021-10-04","v":25.9},{"t":"2021-10-09","v":21.8},{"t":"2021-10-14","v":19.1},{"t":"2021-10-19","v":39.5},{"t":"2021-10-24","v":40.2},{"t":"2021-10-29","v":38.2},{"t":"2021-11-03","v":53.2},{"t":"2021-11-08","v":30.3},{"t":"2021-11-13","v":147.9},{"t":"2021-11-18","v":146.2},{"t":"2021-11-23","v":116.5},{"t":"2021-11-28","v":140.4},{"t":"2021-12-03","v":4.8},{"t":"2021-12-08","v":129.8},{"t":"2021-12-13","v":157.1},{"t":"2021-12-18","v":141.4},{"t":"2021-12-23","v":126.7},{"t":"2021-12-28","v":143.1}],
"NO_R_B":[{"t":"2021-01-17","v":44},{"t":"2021-02-21","v":8.2},{"t":"2021-03-13","v":87.9},{"t":"2021-04-02","v":34},{"t":"2021-05-07","v":51},{"t":"2021-06-26","v":12.3},{"t":"2021-07-26","v":27},{"t":"2021-08-15","v":8.9},{"t":"2021-08-20","v":16.7},{"t":"2021-09-04","v":19},{"t":"2021-09-19","v":11.6},{"t":"2021-09-24","v":8.2},{"t":"2021-10-04","v":8.2},{"t":"2021-10-09","v":6.8},{"t":"2021-11-28","v":110.4},{"t":"2021-12-13","v":127.4}]
},
"columns":3,
"align":"each",
"spacing":0,
"bounds":"flush",
"concat":[
{"width":95,"height":257.6,"view":{"stroke":"black","strokeWidth":3},"data":{"values":[{"t":"CSB"}]},"mark":{"type":"text","angle":270,"fontSize":36,"align":"center","baseline":"middle"},"encoding":{"text":{"field":"t","type":"nominal"}}},
{"width":588,"height":257.6,"view":{"stroke":"black","strokeWidth":2},"resolve":{"axis":{"x":"independent","y":"independent"}},"layer":[
{"data":{"name":"CSB_L_B"},"mark":{"type":"circle","color":"black","size":80,"opacity":1},"encoding":{"x":{"field":"t","type":"temporal","scale":{"type":"utc","domain":[{"year":2021,"month":1,"date":1,"utc":true},{"year":2022,"month":1,"date":1,"utc":true}],"range":[95,551]},"axis":{"orient":"bottom","offset":-43.6,"values":[{"year":2021,"month":1,"date":1,"utc":true},{"year":2021,"month":3,"date":1,"utc":true},{"year":2021,"month":5,"date":1,"utc":true},{"year":2021,"month":7,"date":1,"utc":true},{"year":2021,"month":9,"date":1,"utc":true},{"year":2021,"month":11,"date":1,"utc":true}],"labelExpr":"['Jan','Feb','Mär','Apr','Mai','Jun','Jul','Aug','Sep','Okt','Nov','Dez'][utcmonth(datum.value)]","grid":false,"domain":true,"ticks":true,"tickSize":5,"labelPadding":12,"labelFlush":false,"labelOverlap":false,"title":null}},"y":{"field":"v","type":"quantitative","scale":{"domain":[0,1000],"range":[214,18],"nice":false},"axis":{"orient":"left","offset":-95,"values":[0,200,400,600,800,1000],"labelExpr":"replace(format(datum.value, ','), ',', '’')","grid":true,"ticks":false,"domain":false,"labelPadding":19,"title":"[mg/l]","titleX":-75,"titleY":116,"titleAngle":270,"titleAlign":"center","titleBaseline":"middle"}}}},
{"data":{"name":"CSB_L_A"},"mark":{"type":"point","shape":"diamond","filled":true,"fill":"#ED7D31","stroke":"black","strokeWidth":1.4,"size":72,"opacity":1},"encoding":{"x":{"field":"t","type":"temporal","axis":{"orient":"top","values":[{"year":2021,"month":1,"date":1,"utc":true},{"year":2021,"month":3,"date":1,"utc":true},{"year":2021,"month":5,"date":1,"utc":true},{"year":2021,"month":7,"date":1,"utc":true},{"year":2021,"month":9,"date":1,"utc":true},{"year":2021,"month":11,"date":1,"utc":true}],"grid":true,"labels":false,"ticks":false,"domain":false,"title":null}},"y":{"field":"v","type":"quantitative","axis":null}}},
{"data":{"values":[]},"mark":{"type":"point","opacity":0},"encoding":{"x":{"field":"t","type":"temporal","axis":{"orient":"top","offset":-214,"values":[{"year":2021,"month":2,"date":1,"utc":true},{"year":2021,"month":4,"date":1,"utc":true},{"year":2021,"month":6,"date":1,"utc":true},{"year":2021,"month":8,"date":1,"utc":true},{"year":2021,"month":10,"date":1,"utc":true},{"year":2021,"month":12,"date":1,"utc":true}],"grid":false,"labels":false,"ticks":true,"tickSize":5,"domain":false,"title":null}},"y":{"field":"v","type":"quantitative","axis":null}}}
]},
{"width":592,"height":257.6,"view":{"stroke":"black","strokeWidth":2},"resolve":{"axis":{"x":"independent","y":"independent"}},"layer":[
{"data":{"name":"CSB_R_B"},"mark":{"type":"circle","color":"black","size":80,"opacity":1},"encoding":{"x":{"field":"t","type":"temporal","scale":{"type":"utc","domain":[{"year":2021,"month":1,"date":1,"utc":true},{"year":2022,"month":1,"date":1,"utc":true}],"range":[112,553]},"axis":{"orient":"bottom","offset":-43.6,"values":[{"year":2021,"month":1,"date":1,"utc":true},{"year":2021,"month":3,"date":1,"utc":true},{"year":2021,"month":5,"date":1,"utc":true},{"year":2021,"month":7,"date":1,"utc":true},{"year":2021,"month":9,"date":1,"utc":true},{"year":2021,"month":11,"date":1,"utc":true}],"labelExpr":"['Jan','Feb','Mär','Apr','Mai','Jun','Jul','Aug','Sep','Okt','Nov','Dez'][utcmonth(datum.value)]","grid":false,"domain":true,"ticks":true,"tickSize":5,"labelPadding":12,"labelFlush":false,"labelOverlap":false,"title":null}},"y":{"field":"v","type":"quantitative","scale":{"domain":[0,15],"range":[214,18],"nice":false},"axis":{"orient":"left","offset":-112,"values":[0,5,10,15],"labelExpr":"replace(format(datum.value, ','), ',', '’')","grid":true,"ticks":false,"domain":false,"labelPadding":19,"title":"[t/d]","titleX":-94,"titleY":116,"titleAngle":270,"titleAlign":"center","titleBaseline":"middle"}}}},
{"data":{"name":"CSB_R_A"},"mark":{"type":"point","shape":"diamond","filled":true,"fill":"#FFFF00","stroke":"black","strokeWidth":1.4,"size":72,"opacity":1},"encoding":{"x":{"field":"t","type":"temporal","axis":{"orient":"top","values":[{"year":2021,"month":1,"date":1,"utc":true},{"year":2021,"month":3,"date":1,"utc":true},{"year":2021,"month":5,"date":1,"utc":true},{"year":2021,"month":7,"date":1,"utc":true},{"year":2021,"month":9,"date":1,"utc":true},{"year":2021,"month":11,"date":1,"utc":true}],"grid":true,"labels":false,"ticks":false,"domain":false,"title":null}},"y":{"field":"v","type":"quantitative","axis":null}}},
{"data":{"values":[]},"mark":{"type":"point","opacity":0},"encoding":{"x":{"field":"t","type":"temporal","axis":{"orient":"top","offset":-214,"values":[{"year":2021,"month":2,"date":1,"utc":true},{"year":2021,"month":4,"date":1,"utc":true},{"year":2021,"month":6,"date":1,"utc":true},{"year":2021,"month":8,"date":1,"utc":true},{"year":2021,"month":10,"date":1,"utc":true},{"year":2021,"month":12,"date":1,"utc":true}],"grid":false,"labels":false,"ticks":true,"tickSize":5,"domain":false,"title":null}},"y":{"field":"v","type":"quantitative","axis":null}}}
]},
{"width":95,"height":257.6,"view":{"stroke":"black","strokeWidth":3},"layer":[
{"data":{"values":[{"t":"P"}]},"mark":{"type":"text","angle":270,"fontSize":36,"align":"left","baseline":"middle","dx":-27},"encoding":{"text":{"field":"t","type":"nominal"}}},
{"data":{"values":[{"t":"tot"}]},"mark":{"type":"text","angle":270,"fontSize":24,"align":"left","baseline":"middle","dx":-3,"dy":10},"encoding":{"text":{"field":"t","type":"nominal"}}}
]},
{"width":588,"height":257.6,"view":{"stroke":"black","strokeWidth":2},"resolve":{"axis":{"x":"independent","y":"independent"}},"layer":[
{"data":{"name":"P_L_B"},"mark":{"type":"circle","color":"black","size":80,"opacity":1},"encoding":{"x":{"field":"t","type":"temporal","scale":{"type":"utc","domain":[{"year":2021,"month":1,"date":1,"utc":true},{"year":2022,"month":1,"date":1,"utc":true}],"range":[95,551]},"axis":{"orient":"bottom","offset":-41.1,"values":[{"year":2021,"month":1,"date":1,"utc":true},{"year":2021,"month":3,"date":1,"utc":true},{"year":2021,"month":5,"date":1,"utc":true},{"year":2021,"month":7,"date":1,"utc":true},{"year":2021,"month":9,"date":1,"utc":true},{"year":2021,"month":11,"date":1,"utc":true}],"labelExpr":"['Jan','Feb','Mär','Apr','Mai','Jun','Jul','Aug','Sep','Okt','Nov','Dez'][utcmonth(datum.value)]","grid":false,"domain":true,"ticks":true,"tickSize":5,"labelPadding":12,"labelFlush":false,"labelOverlap":false,"title":null}},"y":{"field":"v","type":"quantitative","scale":{"domain":[0,10],"range":[216.5,17.5],"nice":false},"axis":{"orient":"left","offset":-95,"values":[0,2,4,6,8,10],"labelExpr":"replace(format(datum.value, ','), ',', '’')","grid":true,"ticks":false,"domain":false,"labelPadding":19,"title":"[mg/l]","titleX":-75,"titleY":117,"titleAngle":270,"titleAlign":"center","titleBaseline":"middle"}}}},
{"data":{"name":"P_L_A"},"mark":{"type":"point","shape":"diamond","filled":true,"fill":"#ED7D31","stroke":"black","strokeWidth":1.4,"size":72,"opacity":1},"encoding":{"x":{"field":"t","type":"temporal","axis":{"orient":"top","values":[{"year":2021,"month":1,"date":1,"utc":true},{"year":2021,"month":3,"date":1,"utc":true},{"year":2021,"month":5,"date":1,"utc":true},{"year":2021,"month":7,"date":1,"utc":true},{"year":2021,"month":9,"date":1,"utc":true},{"year":2021,"month":11,"date":1,"utc":true}],"grid":true,"labels":false,"ticks":false,"domain":false,"title":null}},"y":{"field":"v","type":"quantitative","axis":null}}},
{"data":{"values":[]},"mark":{"type":"point","opacity":0},"encoding":{"x":{"field":"t","type":"temporal","axis":{"orient":"top","offset":-216.5,"values":[{"year":2021,"month":2,"date":1,"utc":true},{"year":2021,"month":4,"date":1,"utc":true},{"year":2021,"month":6,"date":1,"utc":true},{"year":2021,"month":8,"date":1,"utc":true},{"year":2021,"month":10,"date":1,"utc":true},{"year":2021,"month":12,"date":1,"utc":true}],"grid":false,"labels":false,"ticks":true,"tickSize":5,"domain":false,"title":null}},"y":{"field":"v","type":"quantitative","axis":null}}}
]},
{"width":592,"height":257.6,"view":{"stroke":"black","strokeWidth":2},"resolve":{"axis":{"x":"independent","y":"independent"}},"layer":[
{"data":{"name":"P_R_B"},"mark":{"type":"circle","color":"black","size":80,"opacity":1},"encoding":{"x":{"field":"t","type":"temporal","scale":{"type":"utc","domain":[{"year":2021,"month":1,"date":1,"utc":true},{"year":2022,"month":1,"date":1,"utc":true}],"range":[112,553]},"axis":{"orient":"bottom","offset":-41.1,"values":[{"year":2021,"month":1,"date":1,"utc":true},{"year":2021,"month":3,"date":1,"utc":true},{"year":2021,"month":5,"date":1,"utc":true},{"year":2021,"month":7,"date":1,"utc":true},{"year":2021,"month":9,"date":1,"utc":true},{"year":2021,"month":11,"date":1,"utc":true}],"labelExpr":"['Jan','Feb','Mär','Apr','Mai','Jun','Jul','Aug','Sep','Okt','Nov','Dez'][utcmonth(datum.value)]","grid":false,"domain":true,"ticks":true,"tickSize":5,"labelPadding":12,"labelFlush":false,"labelOverlap":false,"title":null}},"y":{"field":"v","type":"quantitative","scale":{"domain":[0,150],"range":[216.5,17.5],"nice":false},"axis":{"orient":"left","offset":-112,"values":[0,50,100,150],"labelExpr":"replace(format(datum.value, ','), ',', '’')","grid":true,"ticks":false,"domain":false,"labelPadding":19,"title":"[kg/d]","titleX":-94,"titleY":117,"titleAngle":270,"titleAlign":"center","titleBaseline":"middle"}}}},
{"data":{"name":"P_R_A"},"mark":{"type":"point","shape":"diamond","filled":true,"fill":"#FFFF00","stroke":"black","strokeWidth":1.4,"size":72,"opacity":1},"encoding":{"x":{"field":"t","type":"temporal","axis":{"orient":"top","values":[{"year":2021,"month":1,"date":1,"utc":true},{"year":2021,"month":3,"date":1,"utc":true},{"year":2021,"month":5,"date":1,"utc":true},{"year":2021,"month":7,"date":1,"utc":true},{"year":2021,"month":9,"date":1,"utc":true},{"year":2021,"month":11,"date":1,"utc":true}],"grid":true,"labels":false,"ticks":false,"domain":false,"title":null}},"y":{"field":"v","type":"quantitative","axis":null}}},
{"data":{"values":[]},"mark":{"type":"point","opacity":0},"encoding":{"x":{"field":"t","type":"temporal","axis":{"orient":"top","offset":-216.5,"values":[{"year":2021,"month":2,"date":1,"utc":true},{"year":2021,"month":4,"date":1,"utc":true},{"year":2021,"month":6,"date":1,"utc":true},{"year":2021,"month":8,"date":1,"utc":true},{"year":2021,"month":10,"date":1,"utc":true},{"year":2021,"month":12,"date":1,"utc":true}],"grid":false,"labels":false,"ticks":true,"tickSize":5,"domain":false,"title":null}},"y":{"field":"v","type":"quantitative","axis":null}}}
]},
{"width":95,"height":257.6,"view":{"stroke":"black","strokeWidth":3},"layer":[
{"data":{"values":[{"t":"N"}]},"mark":{"type":"text","angle":270,"fontSize":36,"align":"left","baseline":"middle","dx":-28},"encoding":{"text":{"field":"t","type":"nominal"}}},
{"data":{"values":[{"t":"tot"}]},"mark":{"type":"text","angle":270,"fontSize":24,"align":"left","baseline":"middle","dx":-2,"dy":10},"encoding":{"text":{"field":"t","type":"nominal"}}}
]},
{"width":588,"height":257.6,"view":{"stroke":"black","strokeWidth":2},"resolve":{"axis":{"x":"independent","y":"independent"}},"layer":[
{"data":{"name":"N_L_B"},"mark":{"type":"circle","color":"black","size":80,"opacity":1},"encoding":{"x":{"field":"t","type":"temporal","scale":{"type":"utc","domain":[{"year":2021,"month":1,"date":1,"utc":true},{"year":2022,"month":1,"date":1,"utc":true}],"range":[95,551]},"axis":{"orient":"bottom","offset":-39.6,"values":[{"year":2021,"month":1,"date":1,"utc":true},{"year":2021,"month":3,"date":1,"utc":true},{"year":2021,"month":5,"date":1,"utc":true},{"year":2021,"month":7,"date":1,"utc":true},{"year":2021,"month":9,"date":1,"utc":true},{"year":2021,"month":11,"date":1,"utc":true}],"labelExpr":"['Jan','Feb','Mär','Apr','Mai','Jun','Jul','Aug','Sep','Okt','Nov','Dez'][utcmonth(datum.value)]","grid":false,"domain":true,"ticks":true,"tickSize":5,"labelPadding":12,"labelFlush":false,"labelOverlap":false,"title":null}},"y":{"field":"v","type":"quantitative","scale":{"domain":[0,80],"range":[218,18],"nice":false},"axis":{"orient":"left","offset":-95,"values":[0,20,40,60,80],"labelExpr":"replace(format(datum.value, ','), ',', '’')","grid":true,"ticks":false,"domain":false,"labelPadding":19,"title":"[mg/l]","titleX":-75,"titleY":118,"titleAngle":270,"titleAlign":"center","titleBaseline":"middle"}}}},
{"data":{"name":"N_L_A"},"mark":{"type":"point","shape":"diamond","filled":true,"fill":"#ED7D31","stroke":"black","strokeWidth":1.4,"size":72,"opacity":1},"encoding":{"x":{"field":"t","type":"temporal","axis":{"orient":"top","values":[{"year":2021,"month":1,"date":1,"utc":true},{"year":2021,"month":3,"date":1,"utc":true},{"year":2021,"month":5,"date":1,"utc":true},{"year":2021,"month":7,"date":1,"utc":true},{"year":2021,"month":9,"date":1,"utc":true},{"year":2021,"month":11,"date":1,"utc":true}],"grid":true,"labels":false,"ticks":false,"domain":false,"title":null}},"y":{"field":"v","type":"quantitative","axis":null}}},
{"data":{"values":[]},"mark":{"type":"point","opacity":0},"encoding":{"x":{"field":"t","type":"temporal","axis":{"orient":"top","offset":-218,"values":[{"year":2021,"month":2,"date":1,"utc":true},{"year":2021,"month":4,"date":1,"utc":true},{"year":2021,"month":6,"date":1,"utc":true},{"year":2021,"month":8,"date":1,"utc":true},{"year":2021,"month":10,"date":1,"utc":true},{"year":2021,"month":12,"date":1,"utc":true}],"grid":false,"labels":false,"ticks":true,"tickSize":5,"domain":false,"title":null}},"y":{"field":"v","type":"quantitative","axis":null}}}
]},
{"width":592,"height":257.6,"view":{"stroke":"black","strokeWidth":2},"resolve":{"axis":{"x":"independent","y":"independent"}},"layer":[
{"data":{"name":"N_R_B"},"mark":{"type":"circle","color":"black","size":80,"opacity":1},"encoding":{"x":{"field":"t","type":"temporal","scale":{"type":"utc","domain":[{"year":2021,"month":1,"date":1,"utc":true},{"year":2022,"month":1,"date":1,"utc":true}],"range":[112,553]},"axis":{"orient":"bottom","offset":-39.6,"values":[{"year":2021,"month":1,"date":1,"utc":true},{"year":2021,"month":3,"date":1,"utc":true},{"year":2021,"month":5,"date":1,"utc":true},{"year":2021,"month":7,"date":1,"utc":true},{"year":2021,"month":9,"date":1,"utc":true},{"year":2021,"month":11,"date":1,"utc":true}],"labelExpr":"['Jan','Feb','Mär','Apr','Mai','Jun','Jul','Aug','Sep','Okt','Nov','Dez'][utcmonth(datum.value)]","grid":false,"domain":true,"ticks":true,"tickSize":5,"labelPadding":12,"labelFlush":false,"labelOverlap":false,"title":null}},"y":{"field":"v","type":"quantitative","scale":{"domain":[0,1000],"range":[218,18],"nice":false},"axis":{"orient":"left","offset":-112,"values":[0,200,400,600,800,1000],"labelExpr":"replace(format(datum.value, ','), ',', '’')","grid":true,"ticks":false,"domain":false,"labelPadding":19,"title":"[kg/d]","titleX":-94,"titleY":118,"titleAngle":270,"titleAlign":"center","titleBaseline":"middle"}}}},
{"data":{"name":"N_R_A"},"mark":{"type":"point","shape":"diamond","filled":true,"fill":"#FFFF00","stroke":"black","strokeWidth":1.4,"size":72,"opacity":1},"encoding":{"x":{"field":"t","type":"temporal","axis":{"orient":"top","values":[{"year":2021,"month":1,"date":1,"utc":true},{"year":2021,"month":3,"date":1,"utc":true},{"year":2021,"month":5,"date":1,"utc":true},{"year":2021,"month":7,"date":1,"utc":true},{"year":2021,"month":9,"date":1,"utc":true},{"year":2021,"month":11,"date":1,"utc":true}],"grid":true,"labels":false,"ticks":false,"domain":false,"title":null}},"y":{"field":"v","type":"quantitative","axis":null}}},
{"data":{"values":[]},"mark":{"type":"point","opacity":0},"encoding":{"x":{"field":"t","type":"temporal","axis":{"orient":"top","offset":-218,"values":[{"year":2021,"month":2,"date":1,"utc":true},{"year":2021,"month":4,"date":1,"utc":true},{"year":2021,"month":6,"date":1,"utc":true},{"year":2021,"month":8,"date":1,"utc":true},{"year":2021,"month":10,"date":1,"utc":true},{"year":2021,"month":12,"date":1,"utc":true}],"grid":false,"labels":false,"ticks":true,"tickSize":5,"domain":false,"title":null}},"y":{"field":"v","type":"quantitative","axis":null}}}
]},
{"width":95,"height":257.6,"view":{"stroke":"black","strokeWidth":3},"layer":[
{"data":{"values":[{"t":"NH"}]},"mark":{"type":"text","angle":270,"fontSize":36,"align":"left","baseline":"middle","dx":-55},"encoding":{"text":{"field":"t","type":"nominal"}}},
{"data":{"values":[{"t":"4"}]},"mark":{"type":"text","angle":270,"fontSize":24,"align":"left","baseline":"middle","dx":-3,"dy":10},"encoding":{"text":{"field":"t","type":"nominal"}}},
{"data":{"values":[{"t":"+"}]},"mark":{"type":"text","angle":270,"fontSize":24,"align":"left","baseline":"middle","dx":4,"dy":-12},"encoding":{"text":{"field":"t","type":"nominal"}}},
{"data":{"values":[{"t":"-N"}]},"mark":{"type":"text","angle":270,"fontSize":36,"align":"left","baseline":"middle","dx":18},"encoding":{"text":{"field":"t","type":"nominal"}}}
]},
{"width":588,"height":257.6,"view":{"stroke":"black","strokeWidth":2},"resolve":{"axis":{"x":"independent","y":"independent"}},"layer":[
{"data":{"name":"NH_L_B"},"mark":{"type":"circle","color":"black","size":80,"opacity":1},"encoding":{"x":{"field":"t","type":"temporal","scale":{"type":"utc","domain":[{"year":2021,"month":1,"date":1,"utc":true},{"year":2022,"month":1,"date":1,"utc":true}],"range":[95,551]},"axis":{"orient":"bottom","offset":-39.1,"values":[{"year":2021,"month":1,"date":1,"utc":true},{"year":2021,"month":3,"date":1,"utc":true},{"year":2021,"month":5,"date":1,"utc":true},{"year":2021,"month":7,"date":1,"utc":true},{"year":2021,"month":9,"date":1,"utc":true},{"year":2021,"month":11,"date":1,"utc":true}],"labelExpr":"['Jan','Feb','Mär','Apr','Mai','Jun','Jul','Aug','Sep','Okt','Nov','Dez'][utcmonth(datum.value)]","grid":false,"domain":true,"ticks":true,"tickSize":5,"labelPadding":12,"labelFlush":false,"labelOverlap":false,"title":null}},"y":{"field":"v","type":"quantitative","scale":{"domain":[0,50],"range":[218.5,20],"nice":false},"axis":{"orient":"left","offset":-95,"values":[0,10,20,30,40,50],"labelExpr":"replace(format(datum.value, ','), ',', '’')","grid":true,"ticks":false,"domain":false,"labelPadding":19,"title":"[mg/l]","titleX":-75,"titleY":119,"titleAngle":270,"titleAlign":"center","titleBaseline":"middle"}}}},
{"data":{"name":"NH_L_A"},"mark":{"type":"point","shape":"diamond","filled":true,"fill":"#ED7D31","stroke":"black","strokeWidth":1.4,"size":72,"opacity":1},"encoding":{"x":{"field":"t","type":"temporal","axis":{"orient":"top","values":[{"year":2021,"month":1,"date":1,"utc":true},{"year":2021,"month":3,"date":1,"utc":true},{"year":2021,"month":5,"date":1,"utc":true},{"year":2021,"month":7,"date":1,"utc":true},{"year":2021,"month":9,"date":1,"utc":true},{"year":2021,"month":11,"date":1,"utc":true}],"grid":true,"labels":false,"ticks":false,"domain":false,"title":null}},"y":{"field":"v","type":"quantitative","axis":null}}},
{"data":{"values":[]},"mark":{"type":"point","opacity":0},"encoding":{"x":{"field":"t","type":"temporal","axis":{"orient":"top","offset":-218.5,"values":[{"year":2021,"month":2,"date":1,"utc":true},{"year":2021,"month":4,"date":1,"utc":true},{"year":2021,"month":6,"date":1,"utc":true},{"year":2021,"month":8,"date":1,"utc":true},{"year":2021,"month":10,"date":1,"utc":true},{"year":2021,"month":12,"date":1,"utc":true}],"grid":false,"labels":false,"ticks":true,"tickSize":5,"domain":false,"title":null}},"y":{"field":"v","type":"quantitative","axis":null}}}
]},
{"width":592,"height":257.6,"view":{"stroke":"black","strokeWidth":2},"resolve":{"axis":{"x":"independent","y":"independent"}},"layer":[
{"data":{"name":"NH_R_B"},"mark":{"type":"circle","color":"black","size":80,"opacity":1},"encoding":{"x":{"field":"t","type":"temporal","scale":{"type":"utc","domain":[{"year":2021,"month":1,"date":1,"utc":true},{"year":2022,"month":1,"date":1,"utc":true}],"range":[112,553]},"axis":{"orient":"bottom","offset":-39.1,"values":[{"year":2021,"month":1,"date":1,"utc":true},{"year":2021,"month":3,"date":1,"utc":true},{"year":2021,"month":5,"date":1,"utc":true},{"year":2021,"month":7,"date":1,"utc":true},{"year":2021,"month":9,"date":1,"utc":true},{"year":2021,"month":11,"date":1,"utc":true}],"labelExpr":"['Jan','Feb','Mär','Apr','Mai','Jun','Jul','Aug','Sep','Okt','Nov','Dez'][utcmonth(datum.value)]","grid":false,"domain":true,"ticks":true,"tickSize":5,"labelPadding":12,"labelFlush":false,"labelOverlap":false,"title":null}},"y":{"field":"v","type":"quantitative","scale":{"domain":[0,400],"range":[218.5,20],"nice":false},"axis":{"orient":"left","offset":-112,"values":[0,100,200,300,400],"labelExpr":"replace(format(datum.value, ','), ',', '’')","grid":true,"ticks":false,"domain":false,"labelPadding":19,"title":"[kg/d]","titleX":-94,"titleY":119,"titleAngle":270,"titleAlign":"center","titleBaseline":"middle"}}}},
{"data":{"name":"NH_R_A"},"mark":{"type":"point","shape":"diamond","filled":true,"fill":"#FFFF00","stroke":"black","strokeWidth":1.4,"size":72,"opacity":1},"encoding":{"x":{"field":"t","type":"temporal","axis":{"orient":"top","values":[{"year":2021,"month":1,"date":1,"utc":true},{"year":2021,"month":3,"date":1,"utc":true},{"year":2021,"month":5,"date":1,"utc":true},{"year":2021,"month":7,"date":1,"utc":true},{"year":2021,"month":9,"date":1,"utc":true},{"year":2021,"month":11,"date":1,"utc":true}],"grid":true,"labels":false,"ticks":false,"domain":false,"title":null}},"y":{"field":"v","type":"quantitative","axis":null}}},
{"data":{"values":[]},"mark":{"type":"point","opacity":0},"encoding":{"x":{"field":"t","type":"temporal","axis":{"orient":"top","offset":-218.5,"values":[{"year":2021,"month":2,"date":1,"utc":true},{"year":2021,"month":4,"date":1,"utc":true},{"year":2021,"month":6,"date":1,"utc":true},{"year":2021,"month":8,"date":1,"utc":true},{"year":2021,"month":10,"date":1,"utc":true},{"year":2021,"month":12,"date":1,"utc":true}],"grid":false,"labels":false,"ticks":true,"tickSize":5,"domain":false,"title":null}},"y":{"field":"v","type":"quantitative","axis":null}}}
]},
{"width":95,"height":257.6,"view":{"stroke":"black","strokeWidth":3},"data":{"values":[{"t":"GUS"}]},"mark":{"type":"text","angle":270,"fontSize":36,"align":"center","baseline":"middle"},"encoding":{"text":{"field":"t","type":"nominal"}}},
{"width":588,"height":257.6,"view":{"stroke":"black","strokeWidth":2},"resolve":{"axis":{"x":"independent","y":"independent"}},"layer":[
{"data":{"values":[]},"mark":{"type":"circle","color":"black","size":80,"opacity":1},"encoding":{"x":{"field":"t","type":"temporal","scale":{"type":"utc","domain":[{"year":2021,"month":1,"date":1,"utc":true},{"year":2022,"month":1,"date":1,"utc":true}],"range":[95,551]},"axis":{"orient":"bottom","offset":-41.1,"values":[{"year":2021,"month":1,"date":1,"utc":true},{"year":2021,"month":3,"date":1,"utc":true},{"year":2021,"month":5,"date":1,"utc":true},{"year":2021,"month":7,"date":1,"utc":true},{"year":2021,"month":9,"date":1,"utc":true},{"year":2021,"month":11,"date":1,"utc":true}],"labelExpr":"['Jan','Feb','Mär','Apr','Mai','Jun','Jul','Aug','Sep','Okt','Nov','Dez'][utcmonth(datum.value)]","grid":false,"domain":true,"ticks":true,"tickSize":5,"labelPadding":12,"labelFlush":false,"labelOverlap":false,"title":null}},"y":{"field":"v","type":"quantitative","scale":{"domain":[0,2],"range":[216.5,18.5],"nice":false},"axis":{"orient":"left","offset":-95,"values":[0,0.6667,1.3333,2],"labelExpr":"format(datum.value, '.0f')","grid":true,"ticks":false,"domain":false,"labelPadding":19,"title":"[mg/l]","titleX":-75,"titleY":117.5,"titleAngle":270,"titleAlign":"center","titleBaseline":"middle"}}}},
{"data":{"values":[]},"mark":{"type":"point","opacity":0},"encoding":{"x":{"field":"t","type":"temporal","axis":{"orient":"top","values":[{"year":2021,"month":1,"date":1,"utc":true},{"year":2021,"month":3,"date":1,"utc":true},{"year":2021,"month":5,"date":1,"utc":true},{"year":2021,"month":7,"date":1,"utc":true},{"year":2021,"month":9,"date":1,"utc":true},{"year":2021,"month":11,"date":1,"utc":true}],"grid":true,"labels":false,"ticks":false,"domain":false,"title":null}},"y":{"field":"v","type":"quantitative","axis":null}}},
{"data":{"values":[]},"mark":{"type":"point","opacity":0},"encoding":{"x":{"field":"t","type":"temporal","axis":{"orient":"top","offset":-216.5,"values":[{"year":2021,"month":2,"date":1,"utc":true},{"year":2021,"month":4,"date":1,"utc":true},{"year":2021,"month":6,"date":1,"utc":true},{"year":2021,"month":8,"date":1,"utc":true},{"year":2021,"month":10,"date":1,"utc":true},{"year":2021,"month":12,"date":1,"utc":true}],"grid":false,"labels":false,"ticks":true,"tickSize":5,"domain":false,"title":null}},"y":{"field":"v","type":"quantitative","axis":null}}}
]},
{"width":592,"height":257.6,"view":{"stroke":"black","strokeWidth":2},"resolve":{"axis":{"x":"independent","y":"independent"}},"layer":[
{"data":{"values":[]},"mark":{"type":"circle","color":"black","size":80,"opacity":1},"encoding":{"x":{"field":"t","type":"temporal","scale":{"type":"utc","domain":[{"year":2021,"month":1,"date":1,"utc":true},{"year":2022,"month":1,"date":1,"utc":true}],"range":[112,553]},"axis":{"orient":"bottom","offset":-41.1,"values":[{"year":2021,"month":1,"date":1,"utc":true},{"year":2021,"month":3,"date":1,"utc":true},{"year":2021,"month":5,"date":1,"utc":true},{"year":2021,"month":7,"date":1,"utc":true},{"year":2021,"month":9,"date":1,"utc":true},{"year":2021,"month":11,"date":1,"utc":true}],"labelExpr":"['Jan','Feb','Mär','Apr','Mai','Jun','Jul','Aug','Sep','Okt','Nov','Dez'][utcmonth(datum.value)]","grid":false,"domain":true,"ticks":true,"tickSize":5,"labelPadding":12,"labelFlush":false,"labelOverlap":false,"title":null}},"y":{"field":"v","type":"quantitative","scale":{"domain":[0,2],"range":[216.5,18.5],"nice":false},"axis":{"orient":"left","offset":-112,"values":[0,0.6667,1.3333,2],"labelExpr":"format(datum.value, '.0f')","grid":true,"ticks":false,"domain":false,"labelPadding":19,"title":"[kg/d]","titleX":-94,"titleY":117.5,"titleAngle":270,"titleAlign":"center","titleBaseline":"middle"}}}},
{"data":{"values":[]},"mark":{"type":"point","opacity":0},"encoding":{"x":{"field":"t","type":"temporal","axis":{"orient":"top","values":[{"year":2021,"month":1,"date":1,"utc":true},{"year":2021,"month":3,"date":1,"utc":true},{"year":2021,"month":5,"date":1,"utc":true},{"year":2021,"month":7,"date":1,"utc":true},{"year":2021,"month":9,"date":1,"utc":true},{"year":2021,"month":11,"date":1,"utc":true}],"grid":true,"labels":false,"ticks":false,"domain":false,"title":null}},"y":{"field":"v","type":"quantitative","axis":null}}},
{"data":{"values":[]},"mark":{"type":"point","opacity":0},"encoding":{"x":{"field":"t","type":"temporal","axis":{"orient":"top","offset":-216.5,"values":[{"year":2021,"month":2,"date":1,"utc":true},{"year":2021,"month":4,"date":1,"utc":true},{"year":2021,"month":6,"date":1,"utc":true},{"year":2021,"month":8,"date":1,"utc":true},{"year":2021,"month":10,"date":1,"utc":true},{"year":2021,"month":12,"date":1,"utc":true}],"grid":false,"labels":false,"ticks":true,"tickSize":5,"domain":false,"title":null}},"y":{"field":"v","type":"quantitative","axis":null}}}
]},
{"width":95,"height":257.6,"view":{"stroke":"black","strokeWidth":3},"layer":[
{"data":{"values":[{"t":"NO"}]},"mark":{"type":"text","angle":270,"fontSize":36,"align":"left","baseline":"middle","dx":-56},"encoding":{"text":{"field":"t","type":"nominal"}}},
{"data":{"values":[{"t":"3"}]},"mark":{"type":"text","angle":270,"fontSize":24,"align":"left","baseline":"middle","dx":-2,"dy":10},"encoding":{"text":{"field":"t","type":"nominal"}}},
{"data":{"values":[{"t":"−"}]},"mark":{"type":"text","angle":270,"fontSize":24,"align":"left","baseline":"middle","dx":5,"dy":-12},"encoding":{"text":{"field":"t","type":"nominal"}}},
{"data":{"values":[{"t":"-N"}]},"mark":{"type":"text","angle":270,"fontSize":36,"align":"left","baseline":"middle","dx":19},"encoding":{"text":{"field":"t","type":"nominal"}}}
]},
{"width":588,"height":257.6,"view":{"stroke":"black","strokeWidth":2},"resolve":{"axis":{"x":"independent","y":"independent"}},"layer":[
{"data":{"name":"NO_L_B"},"mark":{"type":"circle","color":"black","size":80,"opacity":1},"encoding":{"x":{"field":"t","type":"temporal","scale":{"type":"utc","domain":[{"year":2021,"month":1,"date":1,"utc":true},{"year":2022,"month":1,"date":1,"utc":true}],"range":[95,551]},"axis":{"orient":"bottom","offset":-42.6,"values":[{"year":2021,"month":1,"date":1,"utc":true},{"year":2021,"month":3,"date":1,"utc":true},{"year":2021,"month":5,"date":1,"utc":true},{"year":2021,"month":7,"date":1,"utc":true},{"year":2021,"month":9,"date":1,"utc":true},{"year":2021,"month":11,"date":1,"utc":true}],"labelExpr":"['Jan','Feb','Mär','Apr','Mai','Jun','Jul','Aug','Sep','Okt','Nov','Dez'][utcmonth(datum.value)]","grid":false,"domain":true,"ticks":true,"tickSize":5,"labelPadding":12,"labelFlush":false,"labelOverlap":false,"title":null}},"y":{"field":"v","type":"quantitative","scale":{"domain":[0,5],"range":[215,19],"nice":false},"axis":{"orient":"left","offset":-95,"values":[0,1,2,3,4,5],"labelExpr":"replace(format(datum.value, ','), ',', '’')","grid":true,"ticks":false,"domain":false,"labelPadding":19,"title":"[mg/l]","titleX":-75,"titleY":117,"titleAngle":270,"titleAlign":"center","titleBaseline":"middle"}}}},
{"data":{"name":"NO_L_A"},"mark":{"type":"point","shape":"diamond","filled":true,"fill":"#ED7D31","stroke":"black","strokeWidth":1.4,"size":72,"opacity":1},"encoding":{"x":{"field":"t","type":"temporal","axis":{"orient":"top","values":[{"year":2021,"month":1,"date":1,"utc":true},{"year":2021,"month":3,"date":1,"utc":true},{"year":2021,"month":5,"date":1,"utc":true},{"year":2021,"month":7,"date":1,"utc":true},{"year":2021,"month":9,"date":1,"utc":true},{"year":2021,"month":11,"date":1,"utc":true}],"grid":true,"labels":false,"ticks":false,"domain":false,"title":null}},"y":{"field":"v","type":"quantitative","axis":null}}},
{"data":{"values":[]},"mark":{"type":"point","opacity":0},"encoding":{"x":{"field":"t","type":"temporal","axis":{"orient":"top","offset":-215,"values":[{"year":2021,"month":2,"date":1,"utc":true},{"year":2021,"month":4,"date":1,"utc":true},{"year":2021,"month":6,"date":1,"utc":true},{"year":2021,"month":8,"date":1,"utc":true},{"year":2021,"month":10,"date":1,"utc":true},{"year":2021,"month":12,"date":1,"utc":true}],"grid":false,"labels":false,"ticks":true,"tickSize":5,"domain":false,"title":null}},"y":{"field":"v","type":"quantitative","axis":null}}}
]},
{"width":592,"height":257.6,"view":{"stroke":"black","strokeWidth":2},"resolve":{"axis":{"x":"independent","y":"independent"}},"layer":[
{"data":{"name":"NO_R_B"},"mark":{"type":"circle","color":"black","size":80,"opacity":1},"encoding":{"x":{"field":"t","type":"temporal","scale":{"type":"utc","domain":[{"year":2021,"month":1,"date":1,"utc":true},{"year":2022,"month":1,"date":1,"utc":true}],"range":[112,553]},"axis":{"orient":"bottom","offset":-42.6,"values":[{"year":2021,"month":1,"date":1,"utc":true},{"year":2021,"month":3,"date":1,"utc":true},{"year":2021,"month":5,"date":1,"utc":true},{"year":2021,"month":7,"date":1,"utc":true},{"year":2021,"month":9,"date":1,"utc":true},{"year":2021,"month":11,"date":1,"utc":true}],"labelExpr":"['Jan','Feb','Mär','Apr','Mai','Jun','Jul','Aug','Sep','Okt','Nov','Dez'][utcmonth(datum.value)]","grid":false,"domain":true,"ticks":true,"tickSize":5,"labelPadding":12,"labelFlush":false,"labelOverlap":false,"title":null}},"y":{"field":"v","type":"quantitative","scale":{"domain":[0,200],"range":[215,19],"nice":false},"axis":{"orient":"left","offset":-112,"values":[0,50,100,150,200],"labelExpr":"replace(format(datum.value, ','), ',', '’')","grid":true,"ticks":false,"domain":false,"labelPadding":19,"title":"[kg/d]","titleX":-94,"titleY":117,"titleAngle":270,"titleAlign":"center","titleBaseline":"middle"}}}},
{"data":{"name":"NO_R_A"},"mark":{"type":"point","shape":"diamond","filled":true,"fill":"#FFFF00","stroke":"black","strokeWidth":1.4,"size":72,"opacity":1},"encoding":{"x":{"field":"t","type":"temporal","axis":{"orient":"top","values":[{"year":2021,"month":1,"date":1,"utc":true},{"year":2021,"month":3,"date":1,"utc":true},{"year":2021,"month":5,"date":1,"utc":true},{"year":2021,"month":7,"date":1,"utc":true},{"year":2021,"month":9,"date":1,"utc":true},{"year":2021,"month":11,"date":1,"utc":true}],"grid":true,"labels":false,"ticks":false,"domain":false,"title":null}},"y":{"field":"v","type":"quantitative","axis":null}}},
{"data":{"values":[]},"mark":{"type":"point","opacity":0},"encoding":{"x":{"field":"t","type":"temporal","axis":{"orient":"top","offset":-215,"values":[{"year":2021,"month":2,"date":1,"utc":true},{"year":2021,"month":4,"date":1,"utc":true},{"year":2021,"month":6,"date":1,"utc":true},{"year":2021,"month":8,"date":1,"utc":true},{"year":2021,"month":10,"date":1,"utc":true},{"year":2021,"month":12,"date":1,"utc":true}],"grid":false,"labels":false,"ticks":true,"tickSize":5,"domain":false,"title":null}},"y":{"field":"v","type":"quantitative","axis":null}}}
]},
{"width":95,"height":257.6,"view":{"stroke":"black","strokeWidth":3},"data":{"values":[{"t":"Fe"}]},"mark":{"type":"text","angle":270,"fontSize":36,"align":"center","baseline":"middle"},"encoding":{"text":{"field":"t","type":"nominal"}}},
{"width":588,"height":257.6,"view":{"stroke":"black","strokeWidth":2},"resolve":{"axis":{"x":"independent","y":"independent"}},"layer":[
{"data":{"values":[]},"mark":{"type":"circle","color":"black","size":80,"opacity":1},"encoding":{"x":{"field":"t","type":"temporal","scale":{"type":"utc","domain":[{"year":2021,"month":1,"date":1,"utc":true},{"year":2022,"month":1,"date":1,"utc":true}],"range":[95,551]},"axis":{"orient":"bottom","offset":-47.1,"values":[{"year":2021,"month":1,"date":1,"utc":true},{"year":2021,"month":3,"date":1,"utc":true},{"year":2021,"month":5,"date":1,"utc":true},{"year":2021,"month":7,"date":1,"utc":true},{"year":2021,"month":9,"date":1,"utc":true},{"year":2021,"month":11,"date":1,"utc":true}],"labelExpr":"['Jan','Feb','Mär','Apr','Mai','Jun','Jul','Aug','Sep','Okt','Nov','Dez'][utcmonth(datum.value)]","grid":false,"domain":true,"ticks":true,"tickSize":5,"labelPadding":11,"labelFlush":false,"labelOverlap":false,"title":null}},"y":{"field":"v","type":"quantitative","scale":{"domain":[0,2],"range":[210.5,13.5],"nice":false},"axis":{"orient":"left","offset":-95,"values":[0,0.6667,1.3333,2],"labelExpr":"format(datum.value, '.0f')","grid":true,"ticks":false,"domain":false,"labelPadding":19,"title":"[mg/l]","titleX":-75,"titleY":112,"titleAngle":270,"titleAlign":"center","titleBaseline":"middle"}}}},
{"data":{"values":[]},"mark":{"type":"point","opacity":0},"encoding":{"x":{"field":"t","type":"temporal","axis":{"orient":"top","values":[{"year":2021,"month":1,"date":1,"utc":true},{"year":2021,"month":3,"date":1,"utc":true},{"year":2021,"month":5,"date":1,"utc":true},{"year":2021,"month":7,"date":1,"utc":true},{"year":2021,"month":9,"date":1,"utc":true},{"year":2021,"month":11,"date":1,"utc":true}],"grid":true,"labels":false,"ticks":false,"domain":false,"title":null}},"y":{"field":"v","type":"quantitative","axis":null}}},
{"data":{"values":[]},"mark":{"type":"point","opacity":0},"encoding":{"x":{"field":"t","type":"temporal","axis":{"orient":"top","offset":-210.5,"values":[{"year":2021,"month":2,"date":1,"utc":true},{"year":2021,"month":4,"date":1,"utc":true},{"year":2021,"month":6,"date":1,"utc":true},{"year":2021,"month":8,"date":1,"utc":true},{"year":2021,"month":10,"date":1,"utc":true},{"year":2021,"month":12,"date":1,"utc":true}],"grid":false,"labels":false,"ticks":true,"tickSize":5,"domain":false,"title":null}},"y":{"field":"v","type":"quantitative","axis":null}}}
]},
{"width":592,"height":257.6,"view":{"stroke":"black","strokeWidth":2},"resolve":{"axis":{"x":"independent","y":"independent"}},"layer":[
{"data":{"values":[]},"mark":{"type":"circle","color":"black","size":80,"opacity":1},"encoding":{"x":{"field":"t","type":"temporal","scale":{"type":"utc","domain":[{"year":2021,"month":1,"date":1,"utc":true},{"year":2022,"month":1,"date":1,"utc":true}],"range":[112,553]},"axis":{"orient":"bottom","offset":-47.1,"values":[{"year":2021,"month":1,"date":1,"utc":true},{"year":2021,"month":3,"date":1,"utc":true},{"year":2021,"month":5,"date":1,"utc":true},{"year":2021,"month":7,"date":1,"utc":true},{"year":2021,"month":9,"date":1,"utc":true},{"year":2021,"month":11,"date":1,"utc":true}],"labelExpr":"['Jan','Feb','Mär','Apr','Mai','Jun','Jul','Aug','Sep','Okt','Nov','Dez'][utcmonth(datum.value)]","grid":false,"domain":true,"ticks":true,"tickSize":5,"labelPadding":11,"labelFlush":false,"labelOverlap":false,"title":null}},"y":{"field":"v","type":"quantitative","scale":{"domain":[0,2],"range":[210.5,13.5],"nice":false},"axis":{"orient":"left","offset":-112,"values":[0,0.6667,1.3333,2],"labelExpr":"format(datum.value, '.0f')","grid":true,"ticks":false,"domain":false,"labelPadding":19,"title":"[kg/d]","titleX":-94,"titleY":112,"titleAngle":270,"titleAlign":"center","titleBaseline":"middle"}}}},
{"data":{"values":[]},"mark":{"type":"point","opacity":0},"encoding":{"x":{"field":"t","type":"temporal","axis":{"orient":"top","values":[{"year":2021,"month":1,"date":1,"utc":true},{"year":2021,"month":3,"date":1,"utc":true},{"year":2021,"month":5,"date":1,"utc":true},{"year":2021,"month":7,"date":1,"utc":true},{"year":2021,"month":9,"date":1,"utc":true},{"year":2021,"month":11,"date":1,"utc":true}],"grid":true,"labels":false,"ticks":false,"domain":false,"title":null}},"y":{"field":"v","type":"quantitative","axis":null}}},
{"data":{"values":[]},"mark":{"type":"point","opacity":0},"encoding":{"x":{"field":"t","type":"temporal","axis":{"orient":"top","offset":-210.5,"values":[{"year":2021,"month":2,"date":1,"utc":true},{"year":2021,"month":4,"date":1,"utc":true},{"year":2021,"month":6,"date":1,"utc":true},{"year":2021,"month":8,"date":1,"utc":true},{"year":2021,"month":10,"date":1,"utc":true},{"year":2021,"month":12,"date":1,"utc":true}],"grid":false,"labels":false,"ticks":true,"tickSize":5,"domain":false,"title":null}},"y":{"field":"v","type":"quantitative","axis":null}}}
]}
]
}
